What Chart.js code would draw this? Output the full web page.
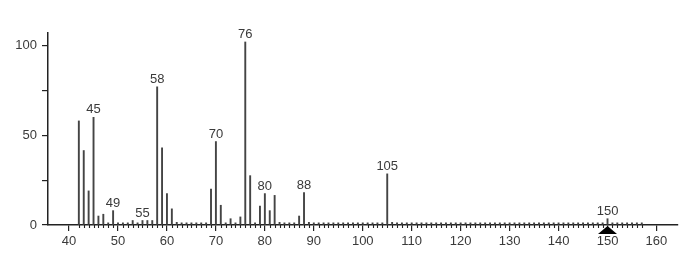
<!DOCTYPE html>
<html lang="en">
<head>
<script src="https://cdn.jsdelivr.net/npm/chart.js@4.4.1/dist/chart.umd.min.js"></script>
<style>
  html, body { margin: 0; padding: 0; background: #fff; }
</style>
</head>
<body>
<canvas id="ms-chart" width="690" height="261"></canvas>

<script>
    // m/z values and relative intensities (%)
    const masses = [
        42, 43, 44, 45, 46, 47, 48, 49,
        50, 51, 52, 53, 54, 55, 56, 57, 58, 59,
        60, 61, 62, 63, 64, 65, 66, 67, 68, 69,
        70, 71, 72, 73, 74, 75, 76, 77, 78, 79,
        80, 81, 82, 83, 84, 85, 86, 87, 88, 89,
        90, 91, 92, 93, 94, 95, 96, 97, 98, 99,
        100, 101, 102, 103, 104, 105, 106, 107, 108, 109,
        110, 111, 112, 113, 114, 115, 116, 117, 118, 119,
        120, 121, 122, 123, 124, 125, 126, 127, 128, 129,
        130, 131, 132, 133, 134, 135, 136, 137, 138, 139,
        140, 141, 142, 143, 144, 145, 146, 147, 148, 149,
        150, 151, 152, 153, 154, 155, 156, 157
    ];
    const intensities = [
        58, 41.5, 19, 60, 5, 6, 1.2, 8,
        1.2, 1.2, 1.2, 2.5, 1.2, 2.5, 2.5, 2.5, 77, 43,
        17.5, 9, 1.5, 1.2, 1.2, 1.2, 1.2, 1.2, 1.2, 20,
        46.5, 11, 1.2, 3.5, 1.2, 4.5, 102, 27.5, 1.2, 10.5,
        17.5, 8, 16.5, 1.5, 1.2, 1.2, 1.2, 5, 18, 1.5,
        1.2, 1.2, 1.2, 1.2, 1.2, 1.2, 1.2, 1.2, 1.2, 1.2,
        1.2, 1.2, 1.2, 1.2, 1.2, 28.5, 1.5, 1.2, 1.2, 1.2,
        1.2, 1.2, 1.2, 1.2, 1.2, 1.2, 1.2, 1.2, 1.2, 1.2,
        1.2, 1.2, 1.2, 1.2, 1.2, 1.2, 1.2, 1.2, 1.2, 1.2,
        1.2, 1.2, 1.2, 1.2, 1.2, 1.2, 1.2, 1.2, 1.2, 1.2,
        1.2, 1.2, 1.2, 1.2, 1.2, 1.2, 1.2, 1.2, 1.2, 1.2,
        3.5, 1.2, 1.2, 1.2, 1.2, 1.2, 1.2, 1.2
    ];
    const peakLabels = [45, 49, 55, 58, 70, 76, 80, 88, 105, 150];
    const xTicks = [40, 50, 60, 70, 80, 90, 100, 110, 120, 130, 140, 150, 160];
    const yTicks = [0, 25, 50, 75, 100];
    const yTickLabels = [0, 50, 100];
    const markerMass = 150;

    const font = {family: '"Liberation Sans", Arial, sans-serif', size: 13};
    const textColor = "#3a3a3a";
    const axisColor = "#222";

    // peak labels, small ticks under the axis and the molecular ion marker
    const annotate = {
        id: "annotate",
        afterDatasetsDraw(chart) {
            const {ctx, chartArea} = chart;
            const x = chart.scales.x, y = chart.scales.y;
            ctx.save();

            ctx.strokeStyle = axisColor;
            ctx.lineWidth = 1.1;
            masses.forEach(m => {
                if (xTicks.includes(m)) return;
                const px = Math.round(x.getPixelForValue(m)) + 0.5;
                ctx.beginPath();
                ctx.moveTo(px, chartArea.bottom);
                ctx.lineTo(px, chartArea.bottom + 3);
                ctx.stroke();
            });

            ctx.font = font.size + "px " + font.family;
            ctx.fillStyle = textColor;
            ctx.textAlign = "center";
            ctx.textBaseline = "alphabetic";
            peakLabels.forEach(m => {
                const v = intensities[masses.indexOf(m)];
                ctx.fillText(String(m), x.getPixelForValue(m), y.getPixelForValue(v) - 4);
            });

            const tx = x.getPixelForValue(markerMass);
            const ty = chartArea.bottom + 1;
            ctx.fillStyle = "#000";
            ctx.beginPath();
            ctx.moveTo(tx, ty);
            ctx.lineTo(tx - 9.5, ty + 8);
            ctx.lineTo(tx + 9.5, ty + 8);
            ctx.closePath();
            ctx.fill();

            ctx.restore();
        }
    };

    new Chart("ms-chart", {
        type: "bar",
        data: {
            datasets: [{
                data: masses.map((m, i) => ({x: m, y: intensities[i]})),
                backgroundColor: "#444",
                borderWidth: 0,
                barThickness: 1.25,
                grouped: false
            }]
        },
        options: {
            responsive: false,
            animation: false,
            devicePixelRatio: 1,
            layout: {padding: {top: 33, right: 12, left: 0, bottom: 0}},
            plugins: {legend: {display: false}, tooltip: {enabled: false}},
            scales: {
                x: {
                    type: "linear",
                    min: 35.7,
                    max: 164.4,
                    offset: false,
                    afterBuildTicks: s => { s.ticks = xTicks.map(v => ({value: v})); },
                    afterFit: s => { s.height = 36; },
                    grid: {drawOnChartArea: false, offset: false, tickLength: 6, color: axisColor, lineWidth: 1.2},
                    border: {color: axisColor, width: 1.5},
                    ticks: {font: font, color: textColor, padding: 3, autoSkip: false, maxRotation: 0}
                },
                y: {
                    min: 0,
                    max: 107,
                    afterBuildTicks: s => { s.ticks = yTicks.map(v => ({value: v})); },
                    afterFit: s => { s.width = 48; },
                    grid: {drawOnChartArea: false, tickLength: 6, color: axisColor, lineWidth: 1.2},
                    border: {color: axisColor, width: 1.5},
                    ticks: {
                        font: font,
                        color: textColor,
                        padding: 5,
                        callback: v => yTickLabels.includes(v) ? v : ""
                    }
                }
            }
        },
        plugins: [annotate]
    });
</script>

</body>
</html>
